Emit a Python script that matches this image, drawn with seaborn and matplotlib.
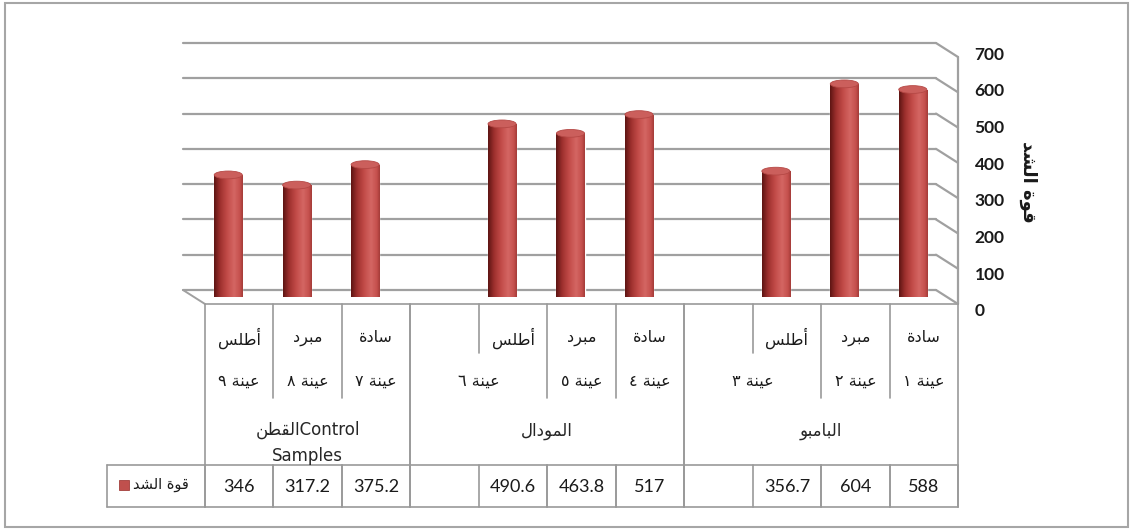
import numpy as np
import pandas as pd
import matplotlib
matplotlib.use("Agg")
import matplotlib.pyplot as plt
import seaborn as sns
from matplotlib import transforms
from matplotlib.patches import Ellipse, Rectangle
from matplotlib.lines import Line2D
from matplotlib.colors import LinearSegmentedColormap

# data
sample_nums = ['١', '٢', '٣', '٤', '٥', '٦', '٧', '٨', '٩']
fabrics = ['سادة', 'مبرد', 'أطلس']
groups = ['البامبو', 'المودال', 'القطن']
tensile = [588, 604, 356.7, 517, 463.8, 490.6, 375.2, 317.2, 346]
series_name = 'قوة الشد'
yticks = [0, 100, 200, 300, 400, 500, 600, 700]

# minimal arabic shaping (matplotlib has no RTL / joining support)
AR = {'ا': (0xFE8D, False), 'أ': (0xFE83, False), 'ب': (0xFE8F, True),
      'ة': (0xFE93, False), 'د': (0xFEA9, False), 'ر': (0xFEAD, False),
      'س': (0xFEB1, True), 'ش': (0xFEB5, True), 'ط': (0xFEC1, True),
      'ع': (0xFEC9, True), 'ق': (0xFED5, True), 'ل': (0xFEDD, True),
      'م': (0xFEE1, True), 'ن': (0xFEE5, True), 'و': (0xFEED, False),
      'ي': (0xFEF1, True)}


def ar(s):
    out = []
    for i, c in enumerate(s):
        if c not in AR:
            out.append(c)
            continue
        base, dual = AR[c]
        prev = s[i - 1] if i > 0 else ''
        nxt = s[i + 1] if i + 1 < len(s) else ''
        jp = prev in AR and AR[prev][1]
        jn = dual and nxt in AR
        f = 3 if (jp and jn) else 1 if jp else 2 if jn else 0
        out.append(chr(base + f))
    return ''.join(out)[::-1]


# slots: 3 samples per group, an empty slot between groups
keys, slot_group = [], []
for g in range(3):
    for k in range(3):
        keys.append(f's{g * 3 + k + 1}')
        slot_group.append(g)
    if g < 2:
        keys.append(f'gap{g + 1}')
        slot_group.append(g)
order = keys[::-1]          # sample 1 on the right
pos = {k: order.index(k) for k in keys}

df = pd.DataFrame({'slot': [f's{i + 1}' for i in range(9)], 'value': tensile})

W, H = 1134, 530
sns.set_style('white')
plt.rcParams['font.family'] = ['Lato', 'DejaVu Sans']

fig = plt.figure(figsize=(W / 100, H / 100), dpi=100)


def fy(px):
    return 1 - px / H


ax = fig.add_axes([194 / W, fy(297), (947 - 194) / W, (297 - 50) / H])
sns.barplot(data=df, x='slot', y='value', order=order, color='#C0504D',
            width=0.41, saturation=1, ax=ax, zorder=3)
ax.set_xlim(-0.5, len(order) - 0.5)
ax.set_ylim(0, 700)
ax.set_xticks([])
ax.set_yticks([])
ax.set_xlabel('')
ax.set_ylabel('')
for s in ax.spines.values():
    s.set_visible(False)
ax.patch.set_visible(False)


def shifted(dx, dy):
    return ax.transData + transforms.ScaledTranslation(dx / 100, dy / 100, fig.dpi_scale_trans)


back = shifted(-11, 7)
front = shifted(11, -7)
grid_c = '#A0A0A0'
x0, x1 = -0.5, len(order) - 0.5

# back wall grid + side wall
for v in yticks:
    ax.plot([x0, x1], [v, v], color=grid_c, lw=1.6, transform=back, clip_on=False, zorder=1)
    bx, by = back.transform((x1, v))
    fx_, fy_ = front.transform((x1, v))
    fig.add_artist(Line2D([bx / W, fx_ / W], [by / H, fy_ / H],
                          color=grid_c, lw=1.6, zorder=1))
ax.plot([x1, x1], [0, 700], color=grid_c, lw=1.6, transform=front, clip_on=False, zorder=1)
# floor left edge
bx, by = back.transform((x0, 0))
fx_, fy_ = front.transform((x0, 0))
fig.add_artist(Line2D([bx / W, fx_ / W], [by / H, fy_ / H], color=grid_c, lw=1.4))

# cylinder look on the bars
cmap = LinearSegmentedColormap.from_list('cyl', [
    (0, '#5E1513'), (0.2, '#9C2F2D'), (0.45, '#C24B48'),
    (0.7, '#D46663'), (0.9, '#C5504D'), (1, '#A53C39')])
grad = np.linspace(0, 1, 64).reshape(1, -1)
eh = 22
for p in list(ax.patches):
    h = p.get_height()
    if not np.isfinite(h) or h <= 0:
        continue
    bx0, bw = p.get_x(), p.get_width()
    cx = bx0 + bw / 2
    im = ax.imshow(grad, cmap=cmap, extent=(bx0, bx0 + bw, 0, h), aspect='auto',
                   origin='lower', zorder=4, interpolation='bilinear')
    im.set_clip_path(p)
    bot = Ellipse((cx, 0), bw, eh, facecolor='none', edgecolor='none')
    ax.add_patch(bot)
    bot.set_clip_on(False)
    im2 = ax.imshow(grad, cmap=cmap, extent=(bx0, bx0 + bw, -eh / 2, 0), aspect='auto',
                    origin='lower', zorder=4, interpolation='bilinear')
    im2.set_clip_box(None)
    im2.set_clip_path(bot)
    top = Ellipse((cx, h), bw, eh, facecolor='#CB5F5C', edgecolor='#B54845',
                  lw=0.6, zorder=5)
    ax.add_patch(top)
    top.set_clip_on(False)
ax.set_xlim(x0, x1)
ax.set_ylim(0, 700)
ax.set_aspect('auto')

# value axis labels (front plane)
axl = fig.add_axes([205 / W, fy(310), 753 / W, (310 - 53) / H])
axl.set_ylim(0, 700)
axl.set_yticks(yticks)
axl.set_xticks([])
axl.yaxis.tick_right()
axl.tick_params(axis='y', length=0, pad=12, labelsize=12.5, labelcolor='#1A1A1A')
for t in axl.get_yticklabels():
    t.set_fontweight('bold')
axl.patch.set_visible(False)
for s in axl.spines.values():
    s.set_visible(False)
axl.yaxis.set_label_position('right')
axl.set_ylabel(ar(series_name), rotation=270, fontsize=13, fontweight='bold',
               family='DejaVu Sans', color='#1A1A1A')
axl.yaxis.set_label_coords(1.105, 0.5)

# data table
tbl = transforms.blended_transform_factory(front, fig.transFigure)
line_kw = dict(color='#9A9A9A', lw=1.2)


def vline(x, ytop, ybot):
    fig.add_artist(Line2D([x, x], [fy(ytop), fy(ybot)], transform=tbl, **line_kw))


def hline(y):
    fig.add_artist(Line2D([x0, x1], [fy(y), fy(y)], transform=tbl, **line_kw))
    lx = front.transform((x0, 0))[0]
    fig.add_artist(Line2D([107 / W, lx / W], [fy(y), fy(y)], **line_kw))


ax.plot([x0, x1], [0, 0], transform=front, clip_on=False, **line_kw)
hline(465)
hline(507)
fig.add_artist(Line2D([107 / W, 107 / W], [fy(465), fy(507)], **line_kw))

for g in range(3):
    gp = [pos[k] for k, gg in zip(keys, slot_group) if gg == g]
    lo, hi = min(gp) - 0.5, max(gp) + 0.5
    vline(lo, 304, 507)
    vline(hi, 304, 507)
    txt = ar(groups[g])
    if g == 2:
        txt = ar(groups[g]) + 'Control\nSamples'
        fig.text((lo + hi) / 2, fy(443), txt, transform=tbl, ha='center', va='center',
                 fontsize=12, linespacing=1.6, family=['DejaVu Sans'])
    else:
        fig.text((lo + hi) / 2, fy(431), txt, transform=tbl, ha='center', va='center',
                 fontsize=12, family=['DejaVu Sans'])

for i, k in enumerate(keys):
    p = pos[k]
    if k.startswith('gap'):
        continue
    n = int(k[1:]) - 1
    fig.text(p, fy(338), ar(fabrics[n % 3]), transform=tbl, ha='center', va='center',
             fontsize=11.5, family=['DejaVu Sans'], color='#1A1A1A')
    nxt = keys[i + 1] if i + 1 < len(keys) else None
    merged = nxt is not None and nxt.startswith('gap')
    lx = (p + pos[nxt]) / 2 if merged else p
    fig.text(lx, fy(381), ar('عينة ' + sample_nums[n]), transform=tbl, ha='center',
             va='center', fontsize=11.5, family=['DejaVu Sans'], color='#1A1A1A')
    fig.text(p, fy(487), f'{tensile[n]:g}', transform=tbl, ha='center', va='center',
             fontsize=13, color='#1A1A1A')
    # separator to the left (visually) of this sample
    left = p - 0.5
    if nxt is None or nxt.startswith('gap'):
        if nxt is not None:
            vline(left, 304, 353)
    else:
        vline(left, 304, 398)
    vline(left, 465, 507)
    vline(p + 0.5, 465, 507)

# legend cell
fig.add_artist(Rectangle((119 / W, fy(490)), 10 / W, 10 / H, transform=fig.transFigure,
                         facecolor='#C0504D', edgecolor='#A33E3B', lw=0.6))
fig.text(133 / W, fy(485), ar(series_name), ha='left', va='center', fontsize=10.5,
         family=['DejaVu Sans'], color='#1A1A1A')

# chart border
fig.add_artist(Rectangle((5 / W, fy(527)), 1123 / W, 524 / H, transform=fig.transFigure,
                         fill=False, edgecolor='#A6A6A6', lw=1.5))

fig.savefig('out.png', dpi=100)
